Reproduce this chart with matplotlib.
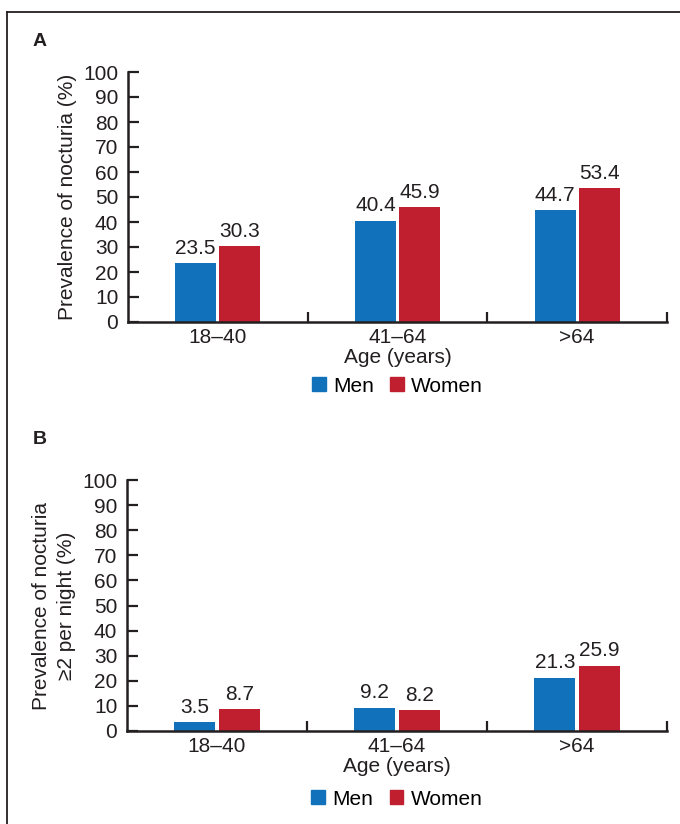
import matplotlib
matplotlib.use("Agg")
import matplotlib.pyplot as plt
import numpy as np
from matplotlib.lines import Line2D
from matplotlib.patches import Patch

plt.rcParams['font.family'] = ['Liberation Sans', 'DejaVu Sans']

categories = ["18–40", "41–64", ">64"]
men_a = [23.5, 40.4, 44.7]
women_a = [30.3, 45.9, 53.4]
men_b = [3.5, 9.2, 21.3]
women_b = [8.7, 8.2, 25.9]
yticks = list(range(0, 101, 10))

BLUE = "#1172BB"
RED = "#C01F2F"
TXT = "#231F20"
FS = 15

fig = plt.figure(figsize=(6.8, 8.24), dpi=100)

def panel(rect, men, women, ylabel, letter, letter_y, leg_y):
    ax = fig.add_axes(rect)
    x = np.arange(len(categories))
    w = 0.228
    off = 0.123
    b1 = ax.bar(x - off, men, w, color=BLUE)
    b2 = ax.bar(x + off, women, w, color=RED)
    for bars, vals in ((b1, men), (b2, women)):
        for b, v in zip(bars, vals):
            ax.annotate(f"{v:.1f}", (b.get_x() + b.get_width() / 2, v),
                        xytext=(0, 4), textcoords="offset points",
                        ha="center", va="bottom", fontsize=FS, color=TXT)
    ax.set_xlim(-0.5, 2.5)
    ax.set_ylim(0, 100)
    ax.set_yticks(yticks)
    ax.set_xticks(x)
    ax.set_xticklabels(categories)
    ax.set_xticks([0.5, 1.5, 2.5], minor=True)
    ax.tick_params(axis="x", which="major", length=0, labelsize=FS, pad=4, colors=TXT)
    ax.tick_params(axis="x", which="minor", direction="in", length=7, width=1.6, color=TXT)
    ax.tick_params(axis="y", direction="in", length=8, width=1.6, labelsize=FS, pad=7, colors=TXT)
    for s in ("top", "right"):
        ax.spines[s].set_visible(False)
    for s in ("left", "bottom"):
        ax.spines[s].set_linewidth(1.8)
        ax.spines[s].set_color(TXT)
    ax.set_ylabel(ylabel, fontsize=FS, color=TXT, linespacing=1.4)
    ax.set_xlabel("Age (years)", fontsize=FS, color=TXT, labelpad=1)
    ax.legend(handles=[Patch(color=BLUE, label="Men"), Patch(color=RED, label="Women")],
              loc="upper center", bbox_to_anchor=(0.5, leg_y), ncol=2, frameon=False,
              fontsize=FS, handlelength=0.65, handleheight=0.65, handletextpad=0.35,
              columnspacing=0.8, borderaxespad=0)
    fig.text(33 / 680, 1 - letter_y / 824, letter, fontsize=14, fontweight="bold",
             ha="left", va="center", color=TXT)
    return ax

axA = panel([128 / 680, 1 - 322 / 824, 539 / 680, 250 / 824], men_a, women_a,
            "Prevalence of nocturia (%)", "A", 41, -0.185)
axB = panel([127 / 680, 1 - 731 / 824, 540 / 680, 251 / 824], men_b, women_b,
            "Prevalence of nocturia\n≥2 per night (%)", "B", 440, -0.2)
axA.yaxis.set_label_coords(-51 / 539, 0.5)
axB.yaxis.set_label_coords(-51 / 540, 0.5)

fig.add_artist(Line2D([7 / 680, 7 / 680], [0, 1 - 12 / 824], transform=fig.transFigure,
                      color=TXT, lw=1.3))
fig.add_artist(Line2D([7 / 680, 1], [1 - 12 / 824, 1 - 12 / 824], transform=fig.transFigure,
                      color=TXT, lw=1.3))

fig.savefig("out.png", dpi=100)
